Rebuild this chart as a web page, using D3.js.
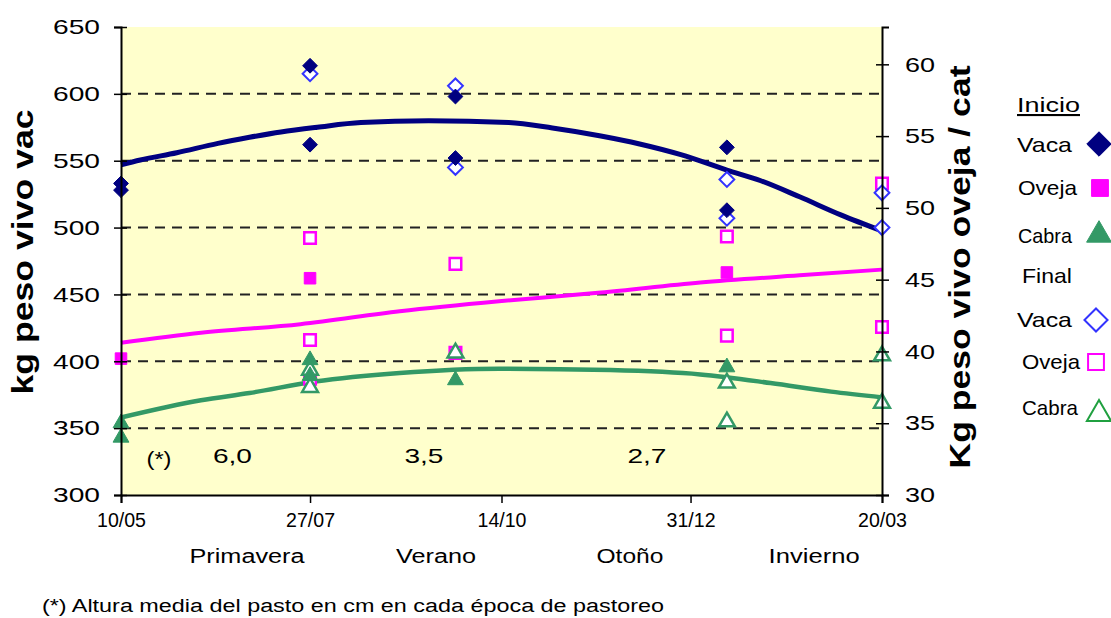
<!DOCTYPE html>
<html>
<head>
<meta charset="utf-8">
<script src="https://cdn.jsdelivr.net/npm/d3@7"></script>
<style>
  body { margin: 0; background: #fff; }
  svg { display: block; font-family: "Liberation Sans", Arial, sans-serif; }
</style>
</head>
<body>
<svg id="chart" width="1111" height="618"></svg>
<script>
// ---------- DATA ----------
const dateTicks = ["2004-05-10", "2004-07-27", "2004-10-14", "2004-12-31", "2005-03-20"];
const leftTicks = [300, 350, 400, 450, 500, 550, 600, 650];
const rightTicks = [30, 35, 40, 45, 50, 55, 60];
const seasons = ["Primavera", "Verano", "Otoño", "Invierno"];
const seasonDates = ["2004-07-01", "2004-09-17", "2004-12-06", "2005-02-20"];
const pastoLabels = ["6,0", "3,5", "2,7"];
const pastoDates = ["2004-06-25", "2004-09-12", "2004-12-13"];

// Inicio (filled) and Final (hollow) points: [date, value]
const vacaInicio = [["2004-05-10", 533], ["2004-05-10", 528], ["2004-07-27", 621], ["2004-07-27", 562],
  ["2004-09-25", 598], ["2004-09-25", 552], ["2005-01-15", 560], ["2005-01-15", 513]];
const vacaFinal = [["2004-07-27", 615], ["2004-09-25", 606], ["2004-09-25", 545], ["2005-01-15", 536],
  ["2005-01-15", 507], ["2005-03-20", 526], ["2005-03-20", 500]];
const ovejaInicio = [["2004-05-10", 39.5], ["2004-07-27", 45.1], ["2005-01-15", 45.5]];
const ovejaFinal = [["2004-07-27", 47.9], ["2004-07-27", 40.8], ["2004-07-27", 38.1], ["2004-09-25", 46.1],
  ["2004-09-25", 39.9], ["2005-01-15", 48.0], ["2005-01-15", 41.1], ["2005-03-20", 51.7], ["2005-03-20", 41.7]];
const cabraInicio = [["2004-05-10", 35.0], ["2004-05-10", 34.0], ["2004-07-27", 39.4], ["2004-07-27", 38.3],
  ["2004-09-25", 38.0], ["2005-01-15", 38.9]];
const cabraFinal = [["2004-07-27", 38.7], ["2004-07-27", 37.5], ["2004-09-25", 39.9], ["2005-01-15", 37.8],
  ["2005-01-15", 35.1], ["2005-03-20", 39.7], ["2005-03-20", 36.4]];

// Trend lines
const vacaTrend = [["2004-05-10", 547], ["2004-05-18", 550.5], ["2004-06-02", 556], ["2004-06-19", 563],
  ["2004-07-02", 567.5], ["2004-07-15", 571.5], ["2004-07-30", 575], ["2004-08-17", 578.5], ["2004-09-14", 579.8],
  ["2004-10-17", 578.5], ["2004-11-04", 574.5], ["2004-11-24", 568.5], ["2004-12-10", 562.5], ["2004-12-27", 554.5],
  ["2005-01-15", 543], ["2005-01-29", 535], ["2005-02-14", 523], ["2005-03-03", 509.5], ["2005-03-20", 497.5]];
const ovejaTrend = [["2004-05-10", 40.6], ["2004-06-12", 41.3], ["2004-07-23", 41.9], ["2004-09-02", 42.8],
  ["2004-10-13", 43.5], ["2004-11-24", 44.1], ["2005-01-04", 44.8], ["2005-02-14", 45.3], ["2005-03-20", 45.7]];
const cabraTrend = [["2004-05-10", 35.4], ["2004-06-12", 36.6], ["2004-07-02", 37.1], ["2004-07-29", 37.9],
  ["2004-09-02", 38.5], ["2004-10-13", 38.8], ["2004-11-28", 38.7], ["2005-01-04", 38.4], ["2005-02-02", 37.8],
  ["2005-02-27", 37.2], ["2005-03-20", 36.8]];

// ---------- CHART ----------
const parse = d3.utcParse("%Y-%m-%d");
const svg = d3.select("#chart");
const L = 121, R = 882, T = 27, B = 495;

const x = d3.scaleUtc().domain([parse(dateTicks[0]), parse(dateTicks[dateTicks.length - 1])]).range([L, R]);
const yL = d3.scaleLinear().domain([300, 650]).range([B, T]);
const yR = d3.scaleLinear().domain([30, 62.6]).range([B, T]);

const navy = "#000080", blue = "#3333ff", magenta = "#ff00ff", green = "#339966", green2 = "#20a040";

svg.append("rect").attr("x", L).attr("y", T).attr("width", R - L).attr("height", B - T).attr("fill", "#ffffcc");

// gridlines
svg.append("g").selectAll("line").data(leftTicks.filter(v => v > 300 && v < 650)).join("line")
  .attr("x1", L).attr("x2", R).attr("y1", d => yL(d)).attr("y2", d => yL(d))
  .attr("stroke", "#222").attr("stroke-width", 2).attr("stroke-dasharray", "10,7");

// trend lines
const lineL = d3.line().x(d => x(parse(d[0]))).y(d => yL(d[1])).curve(d3.curveMonotoneX);
const lineR = d3.line().x(d => x(parse(d[0]))).y(d => yR(d[1])).curve(d3.curveMonotoneX);
svg.append("path").attr("d", lineL(vacaTrend)).attr("fill", "none").attr("stroke", navy).attr("stroke-width", 5);
svg.append("path").attr("d", lineR(ovejaTrend)).attr("fill", "none").attr("stroke", magenta).attr("stroke-width", 4);
svg.append("path").attr("d", lineR(cabraTrend)).attr("fill", "none").attr("stroke", green).attr("stroke-width", 4.5);

// markers
const sym = (type, size) => d3.symbol().type(type).size(size)();
function drawPoints(data, yScale, type, size, fill, stroke, sw) {
  svg.append("g").selectAll("path").data(data).join("path")
    .attr("transform", d => `translate(${x(parse(d[0]))},${yScale(d[1])})`)
    .attr("d", sym(type, size))
    .attr("fill", fill).attr("stroke", stroke).attr("stroke-width", sw);
}
drawPoints(ovejaFinal, yR, d3.symbolSquare2, 170, "#fff", magenta, 2.5);
drawPoints(ovejaInicio, yR, d3.symbolSquare2, 170, magenta, magenta, 1);
drawPoints(cabraFinal, yR, d3.symbolTriangle2, 180, "#fff", green, 2.5);
drawPoints(cabraInicio, yR, d3.symbolTriangle2, 180, green, green, 1);
drawPoints(vacaFinal, yL, d3.symbolDiamond2, 140, "#fff", blue, 2);
drawPoints(vacaInicio, yL, d3.symbolDiamond2, 140, navy, navy, 1);

// axes
const axL = svg.append("g").attr("transform", `translate(${L},0)`)
  .call(d3.axisLeft(yL).tickValues(leftTicks).tickSize(7).tickPadding(14));
const axR = svg.append("g").attr("transform", `translate(${R},0)`)
  .call(d3.axisRight(yR).tickValues(rightTicks).tickSize(7).tickPadding(16));
const axB = svg.append("g").attr("transform", `translate(0,${B})`)
  .call(d3.axisBottom(x).tickValues(dateTicks.map(parse)).tickFormat(d3.utcFormat("%d/%m")).tickSize(8).tickPadding(6));
[axL, axR, axB].forEach(a => {
  a.select(".domain").attr("stroke", "#000").attr("stroke-width", 2);
  a.selectAll(".tick line").attr("stroke", "#000").attr("stroke-width", 1.5);
  a.selectAll("text").attr("fill", "#000").attr("font-family", "Liberation Sans, Arial");
});
axL.selectAll(".tick text").attr("font-size", 21).attr("textLength", 47).attr("lengthAdjust", "spacingAndGlyphs");
axR.selectAll(".tick text").attr("font-size", 21).attr("textLength", 30).attr("lengthAdjust", "spacingAndGlyphs");
axB.selectAll(".tick text").attr("font-size", 20).attr("dy", "0.9em")
  .attr("textLength", 49).attr("lengthAdjust", "spacingAndGlyphs");
// crossing ticks
axL.selectAll(".tick").append("line").attr("x1", 0).attr("x2", 6).attr("stroke", "#000").attr("stroke-width", 1.5);
axR.selectAll(".tick").append("line").attr("x1", 0).attr("x2", -6).attr("stroke", "#000").attr("stroke-width", 1.5);

// axis titles
svg.append("text").attr("transform", `translate(33,252) rotate(-90)`).attr("text-anchor", "middle")
  .attr("font-size", 29).attr("font-weight", "bold").attr("textLength", 285).attr("lengthAdjust", "spacingAndGlyphs")
  .text("kg peso vivo vac");
svg.append("text").attr("transform", `translate(970,267) rotate(-90)`).attr("text-anchor", "middle")
  .attr("font-size", 29).attr("font-weight", "bold").attr("textLength", 403).attr("lengthAdjust", "spacingAndGlyphs")
  .text("Kg peso vivo oveja / cat");

// annotations inside plot
svg.append("text").attr("x", 159).attr("y", 466).attr("text-anchor", "middle").attr("font-size", 21)
  .attr("textLength", 25).attr("lengthAdjust", "spacingAndGlyphs").text("(*)");
svg.append("g").selectAll("text").data(pastoLabels).join("text")
  .attr("x", (d, i) => x(parse(pastoDates[i]))).attr("y", 463).attr("text-anchor", "middle")
  .attr("font-size", 21).attr("textLength", 39).attr("lengthAdjust", "spacingAndGlyphs").text(d => d);

// seasons
const seasonLen = [115, 80, 67, 91];
svg.append("g").selectAll("text").data(seasons).join("text")
  .attr("x", (d, i) => x(parse(seasonDates[i]))).attr("y", 563).attr("text-anchor", "middle")
  .attr("font-size", 20).attr("textLength", (d, i) => seasonLen[i]).attr("lengthAdjust", "spacingAndGlyphs")
  .text(d => d);

// footnote
svg.append("text").attr("x", 42).attr("y", 612).attr("font-size", 18)
  .attr("textLength", 622).attr("lengthAdjust", "spacingAndGlyphs")
  .text("(*) Altura media del pasto en cm en cada época de pastoreo");

// legend
const legend = [
  { label: "Inicio", y: 112, tx: 1017, len: 63 },
  { label: "Vaca", y: 152, tx: 1017, len: 55, type: d3.symbolDiamond2, size: 380, fill: navy, stroke: navy, sx: 1099, sy: 144 },
  { label: "Oveja", y: 195, tx: 1018, len: 59, type: d3.symbolSquare2, size: 360, fill: magenta, stroke: magenta, sx: 1100, sy: 188 },
  { label: "Cabra", y: 243, tx: 1018, len: 54, type: d3.symbolTriangle2, size: 440, fill: green, stroke: green, sx: 1099, sy: 235 },
  { label: "Final", y: 283, tx: 1022, len: 50 },
  { label: "Vaca", y: 327, tx: 1017, len: 55, type: d3.symbolDiamond2, size: 340, fill: "none", stroke: blue, sx: 1096, sy: 320 },
  { label: "Oveja", y: 369, tx: 1022, len: 58, type: d3.symbolSquare2, size: 320, fill: "none", stroke: magenta, sx: 1096, sy: 362 },
  { label: "Cabra", y: 415, tx: 1022, len: 56, type: d3.symbolTriangle2, size: 420, fill: "none", stroke: green2, sx: 1099, sy: 414 }
];
const lg = svg.append("g");
legend.forEach(d => {
  const t = lg.append("text").attr("x", d.tx).attr("y", d.y).attr("font-size", 21)
    .attr("textLength", d.len).attr("lengthAdjust", "spacingAndGlyphs").text(d.label);
  if (d.label === "Inicio") t.attr("text-decoration", "underline");
  if (d.type) {
    lg.append("path").attr("transform", `translate(${d.sx},${d.sy})`).attr("d", sym(d.type, d.size))
      .attr("fill", d.fill).attr("stroke", d.stroke).attr("stroke-width", d.fill === "none" ? 2 : 1);
  }
});
</script>
</body>
</html>
